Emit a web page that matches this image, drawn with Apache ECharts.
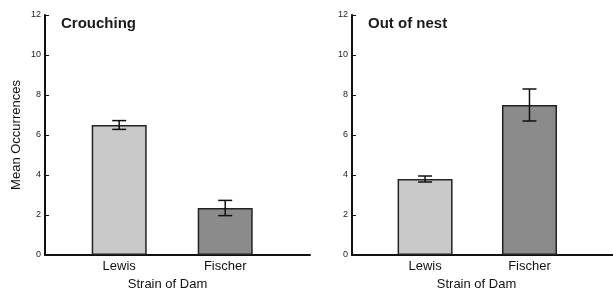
<!DOCTYPE html>
<html>
<head>
<meta charset="utf-8">
<script src="https://cdn.jsdelivr.net/npm/echarts@6/dist/echarts.min.js"></script>
<style>
	html, body { margin: 0; padding: 0; background: #fff; }
	#chart { width: 613px; height: 297px; }
</style>
</head>
<body>
<div id="chart"></div>
<script>
var strains = ['Lewis', 'Fischer'];
var strainPos = [1, 2];
var yTicks = [0, 2, 4, 6, 8, 10, 12];
var crouchMean = [6.5, 2.35];
var crouchErr = [0.22, 0.38];
var nestMean = [3.8, 7.5];
var nestErr = [0.15, 0.8];

var barColors = ['#c9c9c9', '#8b8b8b'];
var font = 'Liberation Sans, Arial, sans-serif';

function barData(means) {
	return strainPos.map(function (x, i) { return [x, means[i]]; });
}
function errData(means, errs) {
	return strainPos.map(function (x, i) { return [x, means[i] - errs[i], means[i] + errs[i]]; });
}

function errorBar(params, api) {
	var x = api.value(0);
	var lo = api.coord([x, api.value(1)]);
	var hi = api.coord([x, api.value(2)]);
	var w = 7;
	var style = { stroke: '#111', lineWidth: 1.5 };
	return {
		type: 'group',
		children: [
			{ type: 'line', shape: { x1: hi[0], y1: hi[1], x2: lo[0], y2: lo[1] }, style: style },
			{ type: 'line', shape: { x1: hi[0] - w, y1: hi[1], x2: hi[0] + w, y2: hi[1] }, style: style },
			{ type: 'line', shape: { x1: lo[0] - w, y1: lo[1], x2: lo[0] + w, y2: lo[1] }, style: style }
		]
	};
}

function xAxis(gridIndex, namePad) {
	return {
		type: 'value',
		gridIndex: gridIndex,
		min: 0.3,
		max: 2.8,
		name: 'Strain of Dam',
		nameLocation: 'middle',
		nameGap: 23,
		nameTextStyle: { fontFamily: font, fontSize: 13, color: '#111', padding: namePad },
		axisLine: { lineStyle: { color: '#111', width: 2 } },
		axisTick: { show: false },
		splitLine: { show: false },
		axisLabel: {
			customValues: strainPos,
			margin: 5,
			fontFamily: font,
			fontSize: 13,
			color: '#111',
			formatter: function (v) { return strains[strainPos.indexOf(v)] || ''; }
		}
	};
}

function yAxis(gridIndex, name) {
	return {
		type: 'value',
		gridIndex: gridIndex,
		min: yTicks[0],
		max: yTicks[yTicks.length - 1],
		interval: 2,
		name: name,
		nameLocation: 'middle',
		nameGap: 22,
		nameTextStyle: { fontFamily: font, fontSize: 13, color: '#111' },
		axisLine: { show: true, lineStyle: { color: '#111', width: 2 } },
		axisTick: { show: true, inside: true, length: 4, lineStyle: { color: '#111' } },
		splitLine: { show: false },
		axisLabel: { margin: 4, fontFamily: font, fontSize: 9, color: '#222' }
	};
}

function bars(idx, means) {
	return {
		type: 'bar',
		xAxisIndex: idx,
		yAxisIndex: idx,
		barWidth: 55,
		data: barData(means),
		itemStyle: {
			color: function (p) { return barColors[p.dataIndex]; },
			borderColor: '#222',
			borderWidth: 1.5
		}
	};
}

function errs(idx, means, e) {
	return {
		type: 'custom',
		xAxisIndex: idx,
		yAxisIndex: idx,
		renderItem: errorBar,
		data: errData(means, e),
		z: 5
	};
}

var chart = echarts.init(document.getElementById('chart'));
chart.setOption({
	backgroundColor: '#fff',
	animation: false,
	title: [
		{ text: 'Crouching', left: 61, top: 16, padding: 0,
			textStyle: { fontFamily: font, fontSize: 15, fontWeight: 'bold', color: '#1a1a1a' } },
		{ text: 'Out of nest', left: 368, top: 16, padding: 0,
			textStyle: { fontFamily: font, fontSize: 15, fontWeight: 'bold', color: '#1a1a1a' } }
	],
	grid: [
		{ left: 45, right: 303, top: 15, bottom: 42 },
		{ left: 352, right: 0, top: 15, bottom: 42 }
	],
	xAxis: [xAxis(0, [0, 20, 0, 0]), xAxis(1, [0, 12, 0, 0])],
	yAxis: [yAxis(0, 'Mean Occurrences'), yAxis(1, '')],
	series: [
		bars(0, crouchMean),
		errs(0, crouchMean, crouchErr),
		bars(1, nestMean),
		errs(1, nestMean, nestErr)
	]
});
</script>
</body>
</html>
